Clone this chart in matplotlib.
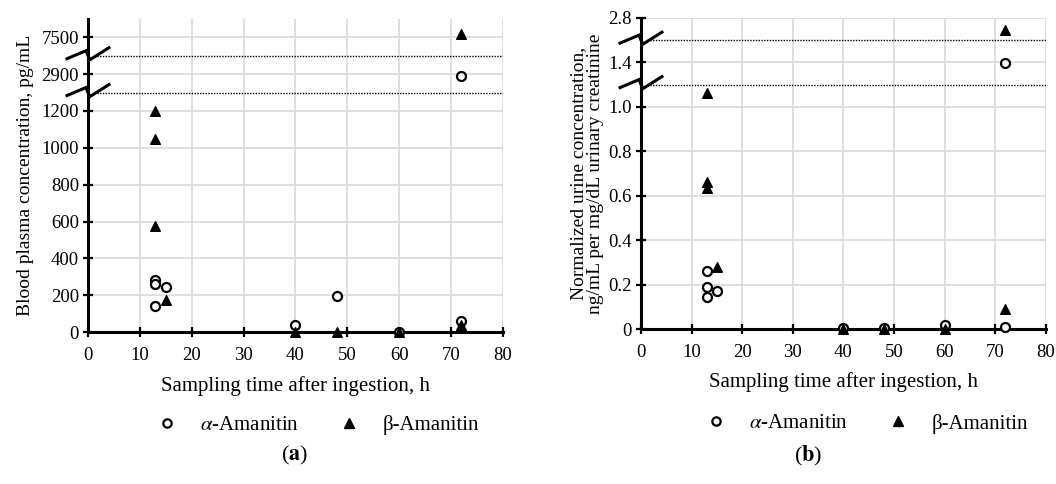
import numpy as np
import matplotlib
matplotlib.use('Agg')
import matplotlib.pyplot as plt
from matplotlib.lines import Line2D

plt.rcParams['font.family'] = ['Liberation Serif', 'DejaVu Serif']
plt.rcParams['mathtext.fontset'] = 'stix'

## data (a) blood plasma, pg/mL
time_a_alpha = [13, 13, 15, 13, 40, 48, 60, 72, 72]
conc_a_alpha = [280, 260, 245, 140, 40, 195, 2, 62, 2850]
time_a_beta = [13, 13, 13, 15, 40, 48, 60, 72, 72]
conc_a_beta = [1200, 1050, 575, 175, 0, 0, 0, 40, 7600]

## data (b) urine, ng/mL per mg/dL creatinine
time_b_alpha = [13, 13, 13, 15, 40, 48, 60, 72, 72]
conc_b_alpha = [0.26, 0.19, 0.145, 0.17, 0.005, 0.003, 0.02, 0.01, 1.39]
time_b_beta = [13, 13, 13, 15, 40, 48, 60, 72, 72]
conc_b_beta = [1.06, 0.66, 0.635, 0.28, 0, 0, 0, 0.09, 2.47]

# broken axis: tick positions and their labels
yticks_a = [0, 200, 400, 600, 800, 1000, 1200, 1400, 1600]
ylabels_a = ['0', '200', '400', '600', '800', '1000', '1200', '2900', '7500']
yticks_b = [0, 0.2, 0.4, 0.6, 0.8, 1.0, 1.2, 1.4]
ylabels_b = ['0', '0.2', '0.4', '0.6', '0.8', '1.0', '1.4', '2.8']
breaks_a = [1300, 1500]
breaks_b = [1.1, 1.3]


def map_a(v):
    # lower band linear, upper bands squeezed around their tick
    if v <= 1250:
        return v
    if v < 5000:
        return 1400 + (v - 2900) / 5
    return 1600 + (v - 7500) / 5


def map_b(v):
    if v <= 1.15:
        return v
    if v < 2.0:
        return 1.2 + (v - 1.4) / 6
    return 1.4 + (v - 2.8) / 6


fig = plt.figure(figsize=(10.56, 4.84), dpi=100)
ax_a = fig.add_axes([0.0833, 0.314, 0.3930, 0.647])
ax_b = fig.add_axes([0.607, 0.320, 0.3835, 0.643])


def style_axis(ax, yticks, ylabels, ymax, breaks):
    ax.set_xlim(0, 80)
    ax.set_ylim(0, ymax)
    ax.set_xticks(np.arange(0, 81, 10))
    ax.set_yticks(yticks)
    ax.set_yticklabels(ylabels)
    ax.grid(True, color='#d9d9d9', linewidth=1.2, zorder=0)
    ax.set_axisbelow(True)
    for s in ['top', 'right']:
        ax.spines[s].set_visible(False)
    for s in ['left', 'bottom']:
        ax.spines[s].set_linewidth(2.2)
        ax.spines[s].set_zorder(3)
    ax.tick_params(axis='both', direction='inout', length=7, width=1.6,
                   labelsize=13.5, color='black')
    ax.tick_params(axis='x', pad=7)
    ax.tick_params(axis='y', pad=3)
    # dotted break lines and zig-zag marks on the y axis
    for yb in breaks:
        ax.axhline(yb, xmin=0.015, color='black', linestyle=(0, (1, 1.0)),
                   linewidth=1.0, zorder=2)
        x0, y0 = ax.transData.transform((0, yb))
        xs, ys = fig.dpi_scale_trans.inverted().transform((x0, y0))
        px = np.array([-21, -2, 0, 2, 21]) / 100.0
        py = np.array([-3, 5, 0, -4, 8]) / 100.0
        fig.add_artist(Line2D(xs + px, ys + py, transform=fig.dpi_scale_trans,
                              color='black', linewidth=2.2, clip_on=False,
                              zorder=4, solid_joinstyle='miter'))


style_axis(ax_a, yticks_a, ylabels_a, 1700, breaks_a)
style_axis(ax_b, yticks_b, ylabels_b, 1.4, breaks_b)

mk_alpha = dict(marker='o', s=42, facecolors='white', edgecolors='black',
                linewidths=1.6, clip_on=False, zorder=5)
mk_beta = dict(marker='^', s=48, color='black', clip_on=False, zorder=6)

ax_a.scatter(time_a_alpha, [map_a(v) for v in conc_a_alpha], **mk_alpha)
ax_a.scatter(time_a_beta, [map_a(v) for v in conc_a_beta], **mk_beta)
ax_b.scatter(time_b_alpha, [map_b(v) for v in conc_b_alpha], **mk_alpha)
ax_b.scatter(time_b_beta, [map_b(v) for v in conc_b_beta], **mk_beta)

ax_a.set_xlabel('Sampling time after ingestion, h', fontsize=15, labelpad=9)
ax_b.set_xlabel('Sampling time after ingestion, h', fontsize=15, labelpad=8)
ax_a.set_ylabel('Blood plasma concentration, pg/mL', fontsize=14, labelpad=5)
ax_b.set_ylabel('Normalized urine concentration,\nng/mL per mg/dL urinary creatinine',
                fontsize=14, labelpad=3, linespacing=1.0)

# legends
handles = [
    Line2D([], [], linestyle='none', marker='o', markersize=6, markerfacecolor='white',
           markeredgecolor='black', markeredgewidth=1.6),
    Line2D([], [], linestyle='none', marker='^', markersize=7, color='black'),
]
labels = [r'$\alpha$-Amanitin', 'β-Amanitin']
for cx, ly in [(0.300, 0.121), (0.820, 0.125)]:
    fig.legend(handles, labels, loc='center', ncol=2, frameon=False, fontsize=15,
               bbox_to_anchor=(cx, ly), handlelength=1.2,
               handletextpad=1.0, columnspacing=1.8)

fig.text(0.279, 0.058, r'($\mathbf{a}$)', ha='center', va='center', fontsize=16)
fig.text(0.765, 0.058, r'($\mathbf{b}$)', ha='center', va='center', fontsize=16)

fig.savefig('out.png', dpi=100)
